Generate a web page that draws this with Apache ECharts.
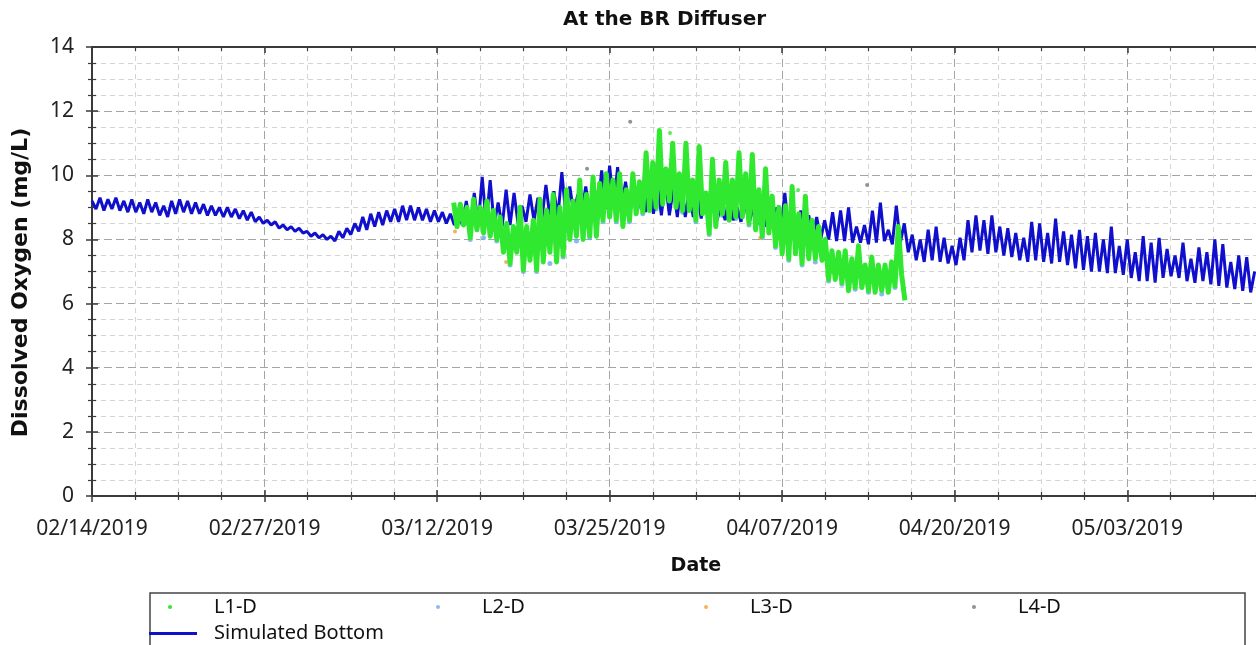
<!DOCTYPE html>
<html>
<head>
<meta charset="utf-8">
<title>At the BR Diffuser</title>
<script src="https://cdn.jsdelivr.net/npm/echarts/dist/echarts.min.js"></script>
<style>
  html, body { margin: 0; padding: 0; background: #ffffff; }
  #chart { width: 1256px; height: 645px; }
</style>
</head>
<body>
<div id="chart"></div>
<script>
// Time axis runs in days since 02/14/2019; one major tick every 13 days.
const dateLabels = ['02/14/2019', '02/27/2019', '03/12/2019', '03/25/2019', '04/07/2019', '04/20/2019', '05/03/2019'];
const dayStep = 13;

// Simulated bottom dissolved oxygen (mg/L), alternating high / low every 0.3 day from 02/14.
const simStartDay = 0;
const simStepDays = 0.3;
const simulatedBottom = [
  9.20, 8.95, 9.30, 8.90, 9.25, 8.95, 9.30, 8.90, 9.20, 8.85, 9.25, 8.85, 9.15, 8.80, 9.25, 8.85, 9.15, 8.75, 9.05, 8.70,
  9.20, 8.80, 9.25, 8.85, 9.20, 8.80, 9.15, 8.80, 9.10, 8.75, 9.05, 8.75, 9.00, 8.70, 9.00, 8.70, 8.95, 8.65, 8.90, 8.60,
  8.85, 8.55, 8.70, 8.50, 8.60, 8.45, 8.55, 8.35, 8.45, 8.30, 8.40, 8.25, 8.35, 8.20, 8.25, 8.10, 8.20, 8.05, 8.15, 8.00,
  8.10, 7.95, 8.25, 8.05, 8.35, 8.15, 8.50, 8.25, 8.70, 8.30, 8.80, 8.40, 8.85, 8.45, 8.90, 8.55, 8.95, 8.55, 9.05, 8.60,
  9.05, 8.60, 9.00, 8.60, 8.95, 8.55, 8.90, 8.55, 8.85, 8.50, 8.80, 8.45, 8.90, 8.45, 9.20, 8.40, 9.45, 8.45, 9.95, 8.50,
  9.85, 8.45, 9.15, 8.40, 9.55, 8.45, 9.45, 8.50, 9.05, 8.55, 9.40, 8.60, 9.30, 8.65, 9.70, 8.70, 9.50, 8.70, 10.10, 8.75,
  9.65, 8.80, 9.40, 8.80, 9.65, 8.85, 9.75, 8.90, 10.15, 8.95, 10.30, 9.00, 10.25, 9.00, 9.80, 8.95, 9.85, 8.90, 9.60, 8.85,
  9.90, 8.80, 9.70, 8.75, 9.85, 8.75, 9.60, 8.70, 9.80, 8.70, 9.50, 8.70, 9.45, 8.65, 9.30, 8.65, 9.50, 8.60, 9.10, 8.60,
  9.35, 8.60, 9.00, 8.55, 9.20, 8.50, 8.95, 8.45, 9.10, 8.40, 8.85, 8.35, 9.00, 8.30, 9.45, 8.25, 8.80, 8.20, 8.90, 8.10,
  8.75, 8.05, 8.70, 8.00, 8.60, 8.00, 8.85, 7.95, 8.90, 7.95, 9.00, 7.90, 8.40, 7.90, 8.45, 7.85, 8.90, 7.90, 9.15, 7.95,
  8.30, 7.85, 9.05, 7.90, 8.50, 7.60, 8.15, 7.35, 8.00, 7.30, 8.30, 7.35, 8.40, 7.30, 8.05, 7.25, 7.80, 7.20, 8.05, 7.35,
  8.60, 7.60, 8.75, 7.65, 8.60, 7.55, 8.75, 7.60, 8.40, 7.50, 8.35, 7.45, 8.20, 7.35, 8.05, 7.30, 8.55, 7.35, 8.50, 7.30,
  8.20, 7.25, 8.65, 7.30, 8.25, 7.20, 8.15, 7.10, 8.30, 7.05, 8.10, 7.00, 8.20, 7.00, 8.00, 6.95, 8.40, 6.95, 7.80, 6.90,
  8.00, 6.80, 7.60, 6.70, 8.10, 6.70, 7.90, 6.65, 8.05, 6.80, 7.70, 6.85, 7.50, 6.80, 7.90, 6.70, 7.40, 6.65, 7.75, 6.70,
  7.60, 6.60, 8.00, 6.55, 7.85, 6.50, 7.30, 6.45, 7.50, 6.40, 7.45, 6.35, 7.00
];

// L1-D observed record, alternating high / low every 0.25 day.
const l1StartDay = 27.25;
const l1StepDays = 0.25;
const l1Observed = [
  9.15, 8.40, 9.10, 8.45, 9.00, 8.05, 9.25, 8.30, 9.00, 8.20, 9.20, 8.10, 8.90, 8.00, 8.70, 7.60, 8.50, 7.25, 8.40, 7.60,
  9.00, 7.05, 8.40, 7.35, 8.60, 7.05, 9.25, 7.30, 8.90, 7.60, 9.40, 7.30, 9.00, 7.50, 9.55, 8.00, 9.20, 8.10, 9.85, 8.00,
  9.40, 8.10, 9.95, 8.10, 9.75, 8.60, 10.05, 8.70, 9.85, 8.60, 10.05, 8.40, 9.55, 8.60, 10.05, 8.80, 9.80, 8.85, 10.70, 8.90,
  10.40, 9.00, 11.40, 9.10, 10.20, 9.20, 11.00, 9.00, 10.05, 8.90, 11.00, 8.90, 9.85, 8.60, 10.90, 8.80, 9.45, 8.20, 10.50, 8.40,
  9.85, 8.80, 10.40, 8.60, 9.85, 8.70, 10.70, 8.70, 10.05, 8.50, 10.65, 8.30, 9.55, 8.10, 10.20, 8.20, 9.35, 7.80, 9.00, 7.55,
  9.05, 7.40, 9.65, 7.55, 8.80, 7.25, 9.35, 7.40, 8.60, 7.40, 8.40, 7.35, 8.00, 6.75, 7.65, 6.75, 7.60, 6.65, 7.65, 6.40,
  7.40, 6.50, 7.80, 6.50, 7.20, 6.40, 7.45, 6.35, 7.20, 6.40, 7.20, 6.35, 7.30, 6.55, 8.40, 6.90, 6.10
];
// Isolated L1-D readings standing above the band: [day, mg/L]
const l1Outliers = [[43.55, 11.32], [53.2, 9.54]];

// L2-D readings near the daily lows: [day, mg/L]
const l2Observed = [
  [28.5, 8.00], [29.5, 8.05], [30.5, 7.95], [31.5, 7.20], [32.5, 7.00], [33.5, 7.00], [34.5, 7.25], [35.5, 7.45],
  [36.5, 7.95], [37.5, 8.05], [38.5, 8.55], [39.5, 8.55], [40.5, 8.55], [41.5, 8.80], [42.5, 8.95], [43.5, 8.95],
  [44.5, 8.85], [45.5, 8.55], [46.5, 8.15], [47.5, 8.75], [48.5, 8.65], [49.5, 8.45], [50.5, 8.05], [51.5, 7.75],
  [52.5, 7.35], [53.5, 7.20], [54.5, 7.30], [55.5, 6.70], [56.5, 6.60], [57.5, 6.45], [58.5, 6.35], [59.5, 6.30],
  [60.5, 6.50]
];
// L3-D and L4-D scattered readings: [day, mg/L]
const l3Observed = [[27.35, 8.25], [31.2, 7.30], [50.35, 8.05]];
const l4Observed = [[40.55, 11.67], [37.3, 10.20], [58.4, 9.70]];

const seriesColors = { 'L1-D': '#30e830', 'L2-D': '#6fa8e8', 'L3-D': '#f0a030', 'L4-D': '#707880', 'Simulated Bottom': '#1010cc' };

function timed(values, start, step) {
  return values.map((v, i) => [start + i * step, v]);
}

const REG = 'Noto Sans, Liberation Sans, sans-serif';
const BOLD = 'DejaVu Sans, Verdana, sans-serif';
const AXIS_COLOR = '#3a3a3a';

const dayFormatter = function (v) {
  const k = Math.round(v / dayStep);
  if (Math.abs(v - k * dayStep) > 1e-6) return '';
  return dateLabels[k] || '';
};

const xBase = { type: 'value', min: 0, max: 91, interval: dayStep };
const yBase = { type: 'value', min: 0, max: 14, interval: 2 };

const chart = echarts.init(document.getElementById('chart'), null, { renderer: 'canvas' });

const legendText = { fontFamily: REG, fontSize: 20, color: '#111' };
function dotLegend(name, left) {
  return {
    data: [{ name: name, icon: 'circle' }],
    left: left, top: 597, padding: 0,
    itemWidth: 4, itemHeight: 4, selectedMode: false,
    textStyle: Object.assign({ padding: [0, 0, 0, 37] }, legendText)
  };
}

chart.setOption({
  animation: false,
  backgroundColor: '#ffffff',
  title: {
    text: 'At the BR Diffuser',
    left: 563, top: 10, padding: 0,
    textStyle: { fontFamily: BOLD, fontWeight: 'bold', fontSize: 20, color: '#111' }
  },
  grid: { left: 92, right: -43.8, top: 47, bottom: 149, containLabel: false, outerBoundsMode: 'none' },
  legend: [
    dotLegend('L1-D', 168),
    dotLegend('L2-D', 436),
    dotLegend('L3-D', 704),
    dotLegend('L4-D', 972),
    {
      data: [{ name: 'Simulated Bottom', icon: 'rect' }],
      left: 149, top: 623.5, padding: 0,
      itemWidth: 48, itemHeight: 3, selectedMode: false,
      textStyle: Object.assign({ padding: [0, 0, 0, 12] }, legendText)
    }
  ],
  graphic: [{
    type: 'rect', silent: true, z: 0,
    shape: { x: 150, y: 593, width: 1095, height: 90 },
    style: { fill: 'none', stroke: '#444', lineWidth: 1.5 }
  }],
  xAxis: [
    Object.assign({}, xBase, {
      position: 'bottom',
      name: 'Date', nameLocation: 'middle', nameGap: 61,
      nameTextStyle: { fontFamily: BOLD, fontWeight: 'bold', fontSize: 19, color: '#111' },
      axisLine: { show: true, lineStyle: { color: AXIS_COLOR, width: 2 } },
      axisTick: { show: true, inside: false, length: 6, lineStyle: { color: AXIS_COLOR, width: 1.5 } },
      minorTick: { show: true, splitNumber: 4, length: 4, lineStyle: { color: AXIS_COLOR, width: 1.2 } },
      axisLabel: { formatter: dayFormatter, fontFamily: REG, fontSize: 21, color: '#222', margin: 23, showMaxLabel: false },
      splitLine: { show: true, lineStyle: { color: '#a4a4a4', width: 1, type: [8, 4] } },
      minorSplitLine: { show: true, lineStyle: { color: '#d4d4d4', width: 1, type: [5, 4] } }
    }),
    Object.assign({}, xBase, {
      position: 'bottom',
      axisLine: { show: false },
      axisTick: { show: true, inside: true, length: 6, lineStyle: { color: AXIS_COLOR, width: 1.5 } },
      minorTick: { show: true, splitNumber: 4, length: 4, lineStyle: { color: AXIS_COLOR, width: 1.2 } },
      axisLabel: { show: false },
      splitLine: { show: false }
    }),
    Object.assign({}, xBase, {
      position: 'top',
      axisLine: { show: true, lineStyle: { color: AXIS_COLOR, width: 2 } },
      axisTick: { show: true, inside: true, length: 6, lineStyle: { color: AXIS_COLOR, width: 1.5 } },
      minorTick: { show: true, splitNumber: 4, length: 4, lineStyle: { color: AXIS_COLOR, width: 1.2 } },
      axisLabel: { show: false },
      splitLine: { show: false }
    })
  ],
  yAxis: [
    Object.assign({}, yBase, {
      position: 'left',
      name: 'Dissolved Oxygen (mg/L)', nameLocation: 'middle', nameGap: 60, nameRotate: 90,
      nameTextStyle: { fontFamily: BOLD, fontWeight: 'bold', fontSize: 22, color: '#111', padding: [0, 22, 0, 0] },
      axisLine: { show: true, lineStyle: { color: AXIS_COLOR, width: 2 } },
      axisTick: { show: true, inside: false, length: 6, lineStyle: { color: AXIS_COLOR, width: 1.5 } },
      minorTick: { show: true, splitNumber: 4, length: 4, lineStyle: { color: AXIS_COLOR, width: 1.2 } },
      axisLabel: { fontFamily: REG, fontSize: 21, color: '#222', margin: 18 },
      splitLine: { show: true, lineStyle: { color: '#a4a4a4', width: 1, type: [8, 4] } },
      minorSplitLine: { show: true, lineStyle: { color: '#d4d4d4', width: 1, type: [5, 4] } }
    }),
    Object.assign({}, yBase, {
      position: 'left',
      axisLine: { show: false },
      axisTick: { show: true, inside: true, length: 6, lineStyle: { color: AXIS_COLOR, width: 1.5 } },
      minorTick: { show: true, splitNumber: 4, length: 4, lineStyle: { color: AXIS_COLOR, width: 1.2 } },
      axisLabel: { show: false },
      splitLine: { show: false }
    })
  ],
  series: [
    {
      name: 'Simulated Bottom', type: 'line', xAxisIndex: 0, yAxisIndex: 0,
      data: timed(simulatedBottom, simStartDay, simStepDays),
      showSymbol: false, symbol: 'none', smooth: false,
      color: seriesColors['Simulated Bottom'],
      lineStyle: { color: seriesColors['Simulated Bottom'], width: 3 },
      silent: true
    },
    {
      name: 'L2-D', type: 'scatter', xAxisIndex: 0, yAxisIndex: 0,
      data: l2Observed, symbolSize: 5,
      itemStyle: { color: seriesColors['L2-D'] }, silent: true
    },
    {
      name: 'L1-D', type: 'line', xAxisIndex: 0, yAxisIndex: 0,
      data: timed(l1Observed, l1StartDay, l1StepDays),
      showSymbol: false, symbol: 'none',
      color: seriesColors['L1-D'],
      lineStyle: { color: seriesColors['L1-D'], width: 5, join: 'round' },
      silent: true
    },
    {
      name: 'L1-D', type: 'scatter', xAxisIndex: 0, yAxisIndex: 0,
      data: l1Outliers, symbolSize: 4,
      itemStyle: { color: seriesColors['L1-D'] }, silent: true
    },
    {
      name: 'L3-D', type: 'scatter', xAxisIndex: 0, yAxisIndex: 0,
      data: l3Observed, symbolSize: 4,
      itemStyle: { color: seriesColors['L3-D'] }, silent: true
    },
    {
      name: 'L4-D', type: 'scatter', xAxisIndex: 0, yAxisIndex: 0,
      data: l4Observed, symbolSize: 4,
      itemStyle: { color: seriesColors['L4-D'] }, silent: true
    }
  ]
});
</script>
</body>
</html>
